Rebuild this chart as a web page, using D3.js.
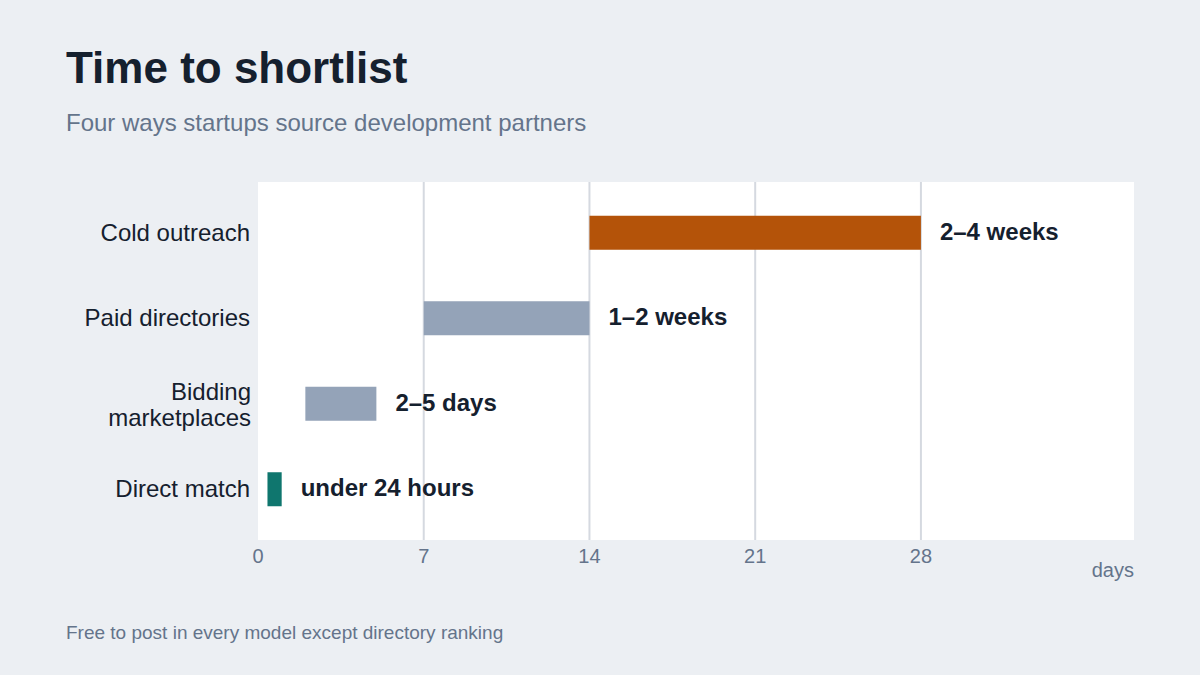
<!DOCTYPE html>
<html><head><meta charset="utf-8">
<script src="https://cdn.jsdelivr.net/npm/d3@7"></script>
<style>body{margin:0;background:#eceff3;font-family:"Liberation Sans",Arial,sans-serif}</style>
</head><body><svg id="c" width="1200" height="675"></svg>
<script>
const categories=["Cold outreach","Paid directories","Bidding marketplaces","Direct match"];
const starts=[14,7,2,0.4];
const ends=[28,14,5,1];
const labels=["2–4 weeks","1–2 weeks","2–5 days","under 24 hours"];
const colors=["#b45309","#94a3b8","#94a3b8","#0f766e"];
const ticks=[0,7,14,21,28];
const svg=d3.select("#c");
svg.append("rect").attr("width",1200).attr("height",675).attr("fill","#eceff3");
const L=258,R=1134,T=182,B=540;
const x=d3.scaleLinear().domain([0,37]).range([L,R]);
const y=d3.scaleBand().domain(categories).range([T+8,B-8]).paddingInner(0.6).paddingOuter(0.3);
svg.append("rect").attr("x",L).attr("y",T).attr("width",R-L).attr("height",B-T).attr("fill","#fff");
svg.append("text").attr("x",66).attr("y",83).text("Time to shortlist").attr("font-size",44).attr("font-weight","bold").attr("fill","#15202e");
svg.append("text").attr("x",66).attr("y",131).text("Four ways startups source development partners").attr("font-size",24).attr("fill","#64748b");
svg.append("text").attr("x",66).attr("y",639).text("Free to post in every model except directory ranking").attr("font-size",19).attr("fill","#64748b");
ticks.filter(t=>t>0).forEach(t=>svg.append("line").attr("x1",x(t)).attr("x2",x(t)).attr("y1",T).attr("y2",B).attr("stroke","#d5d9e0").attr("stroke-width",2));
ticks.forEach(t=>svg.append("text").attr("x",x(t)).attr("y",563).attr("text-anchor","middle").text(t).attr("font-size",20).attr("fill","#64748b"));
svg.append("text").attr("x",R).attr("y",577).attr("text-anchor","end").text("days").attr("font-size",20).attr("fill","#64748b");
categories.forEach((c,i)=>{
  const yc=y(c)+y.bandwidth()/2;
  svg.append("rect").attr("x",x(starts[i])).attr("y",yc-17).attr("width",x(ends[i])-x(starts[i])).attr("height",34).attr("fill",colors[i]);
  svg.append("text").attr("x",x(ends[i])+19).attr("y",yc+7).text(labels[i]).attr("font-size",24).attr("font-weight","bold").attr("fill","#15202e");
  const t=svg.append("text").attr("x",250).attr("text-anchor","end").attr("font-size",24).attr("fill","#15202e");
  if(c==="Bidding marketplaces"){
    t.append("tspan").attr("x",251).attr("y",yc-4).text("Bidding");
    t.append("tspan").attr("x",251).attr("y",yc+22).text("marketplaces");
  } else t.attr("y",yc+8).text(c);
});
</script></body></html>
